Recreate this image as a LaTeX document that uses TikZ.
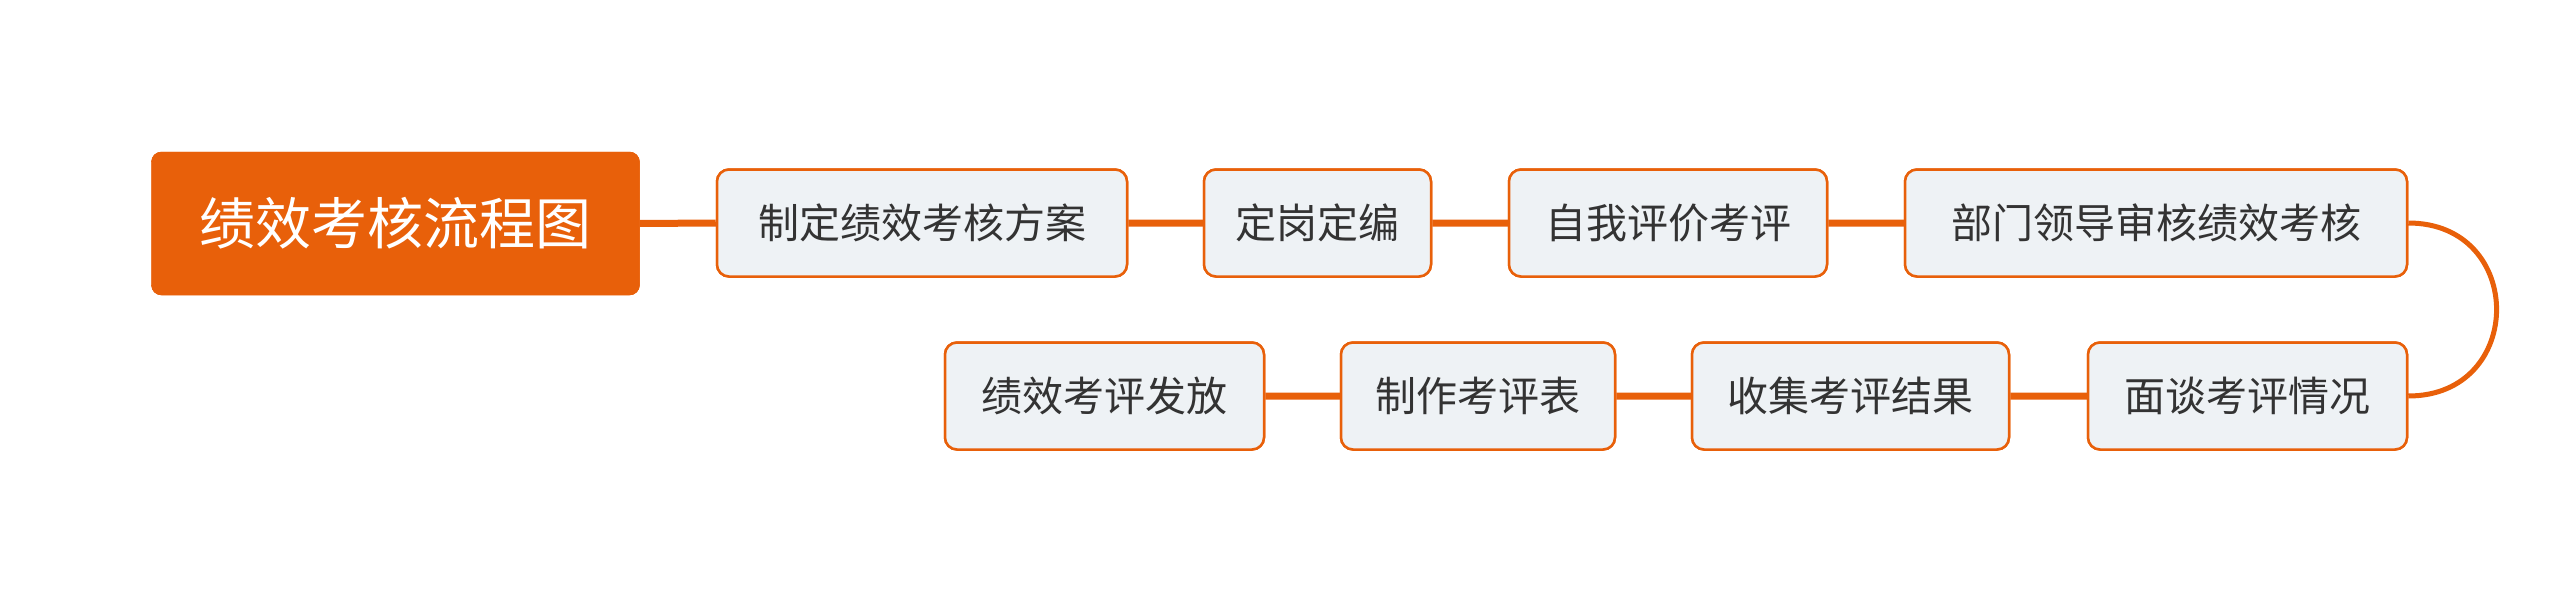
\documentclass[tikz,border=0pt]{standalone}
\usepackage{fontspec}
\newfontfamily\cjk{Noto Sans CJK SC}
\definecolor{org}{HTML}{E8600A}
\definecolor{boxfill}{HTML}{EEF2F5}
\definecolor{txt}{HTML}{333333}
\begin{document}
\begin{tikzpicture}[x=1pt,y=-1pt,
  root/.style={rectangle,rounded corners=10pt,fill=org,draw=org,text=white,font=\cjk\fontsize{56}{60}\selectfont,inner sep=0pt},
  item/.style={rectangle,rounded corners=12pt,fill=boxfill,draw=org,line width=2.5pt,text=txt,font=\cjk\fontsize{41}{46}\selectfont,inner sep=0pt},
  conn/.style={draw=org,line width=7pt}]
\useasboundingbox (0,0) rectangle (2560,602);
\node[root,minimum width=488pt,minimum height=143pt] (r) at (395.5,223.5) {绩效考核流程图};
\node[item,minimum width=410pt,minimum height=107pt] (a) at (922,223) {制定绩效考核方案};
\node[item,minimum width=227pt,minimum height=107pt] (b) at (1317.5,223) {定岗定编};
\node[item,minimum width=318pt,minimum height=107pt] (c) at (1668,223) {自我评价考评};
\node[item,minimum width=502pt,minimum height=107pt] (d) at (2156,223) {部门领导审核绩效考核};
\node[item,minimum width=319pt,minimum height=107pt] (e) at (2247.5,396) {面谈考评情况};
\node[item,minimum width=317pt,minimum height=107pt] (f) at (1850.5,396) {收集考评结果};
\node[item,minimum width=274pt,minimum height=107pt] (g) at (1478,396) {制作考评表};
\node[item,minimum width=319pt,minimum height=107pt] (h) at (1104.5,396) {绩效考评发放};
\begin{scope}[on background layer/.try]
\end{scope}
\path[conn] (r.east) -- (a.west) (a.east) -- (b.west) (b.east) -- (c.west) (c.east) -- (d.west)
  (e.west) -- (f.east) (f.west) -- (g.east) (g.west) -- (h.east);
\path[conn,line width=5pt] (d.east) .. controls (2526,223) and (2526,396) .. (e.east);
\node[root,minimum width=488pt,minimum height=143pt] at (395.5,223.5) {绩效考核流程图};
\node[item,minimum width=410pt,minimum height=107pt] at (922,223) {制定绩效考核方案};
\node[item,minimum width=227pt,minimum height=107pt] at (1317.5,223) {定岗定编};
\node[item,minimum width=318pt,minimum height=107pt] at (1668,223) {自我评价考评};
\node[item,minimum width=502pt,minimum height=107pt] at (2156,223) {部门领导审核绩效考核};
\node[item,minimum width=319pt,minimum height=107pt] at (2247.5,396) {面谈考评情况};
\node[item,minimum width=317pt,minimum height=107pt] at (1850.5,396) {收集考评结果};
\node[item,minimum width=274pt,minimum height=107pt] at (1478,396) {制作考评表};
\node[item,minimum width=319pt,minimum height=107pt] at (1104.5,396) {绩效考评发放};
\end{tikzpicture}
\end{document}
